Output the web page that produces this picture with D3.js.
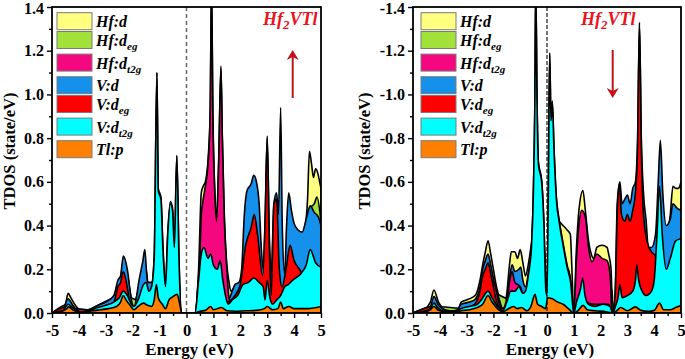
<!DOCTYPE html>
<html>
<head>
<meta charset="utf-8">
<script src="https://cdn.jsdelivr.net/npm/d3@7"></script>
<style>
  body { margin: 0; background: #fff; }
  svg { display: block; }
  svg text { font-family: "Liberation Serif", "Tinos", "Times New Roman", "DejaVu Serif", serif; }
</style>
</head>
<body>
<div id="chart"></div>
<script>
// ---- data: [energy (eV), DOS (state/eV)] ----
const energyTicks = [-5, -4, -3, -2, -1, 0, 1, 2, 3, 4, 5];
const energyMinor = [-4.5, -3.5, -2.5, -1.5, -0.5, 0.5, 1.5, 2.5, 3.5, 4.5];
const dosTicks = [0, 0.2, 0.4, 0.6, 0.8, 1.0, 1.2, 1.4];
const dosMinor = [0.1, 0.3, 0.5, 0.7, 0.9, 1.1, 1.3];

const seriesLabels = [
  { main: 'Hf:d', sub: '' }, { main: 'Hf:d', sub: 'eg' }, { main: 'Hf:d', sub: 't2g' },
  { main: 'V:d', sub: '' }, { main: 'V:d', sub: 'eg' }, { main: 'V:d', sub: 't2g' },
  { main: 'Tl:p', sub: '' }
];
const seriesColors = ['#ffff80', '#a2e03a', '#f5087f', '#1591ec', '#ff0000', '#00ffff', '#ff8000'];

// spin up
const upHfD = [[-5,0],[-4.7,0.01],[-4.5,0.04],[-4.4,0.09],[-4.3,0.07],[-4.1,0.03],[-3.9,0.01],[-3.7,0.01],[-3.5,0.02],[-3.2,0.03],[-3,0.04],[-2.7,0.06],[-2.55,0.14],[-2.45,0.16],[-2.35,0.24],[-2.2,0.18],[-2.05,0.07],[-1.95,0.05],[-1.8,0.1],[-1.6,0.2],[-1.5,0.2],[-1.4,0.1],[-1.2,0.15],[-1.1,0.4],[-1,0.2],[-0.8,0.1],[-0.6,0.2],[-0.36,0.3],[-0.2,0],[0.3,0],[0.45,0.2],[0.55,0.55],[0.62,0.58],[0.7,0.6],[0.8,0.7],[0.88,0.92],[0.93,1.52],[0.98,0.92],[1.05,0.57],[1.12,0.44],[1.2,0.72],[1.28,1.13],[1.33,0.82],[1.4,0.47],[1.5,0.22],[1.57,0.15],[1.65,0.1],[1.8,0.12],[1.95,0.13],[2.1,0.12],[2.4,0.15],[2.7,0.15],[3,0.2],[3.3,0.2],[3.6,0.2],[3.9,0.25],[4.2,0.3],[4.4,0.38],[4.5,0.52],[4.57,0.74],[4.65,0.68],[4.72,0.62],[4.8,0.66],[4.88,0.64],[4.95,0.6],[5,0.57]];
const upHfEg = [[-5,0],[-4.4,0.04],[-4,0.005],[-2.35,0.08],[-1.6,0.05],[-1.1,0.1],[-0.36,0.1],[-0.2,0],[0.3,0],[0.6,0.05],[0.93,0.1],[1.28,0.05],[1.5,0.03],[2,0.05],[2.5,0.08],[3,0.1],[3.5,0.12],[4,0.15],[4.4,0.3],[4.6,0.48],[4.75,0.5],[4.85,0.53],[5,0.42]];
const upHfT2g = [[-5,0],[-4.4,0.02],[-3,0.01],[-2.4,0.03],[-2,0.01],[-1.1,0.05],[-0.4,0.03],[-0.2,0],[0.3,0],[0.45,0.1],[0.55,0.45],[0.62,0.52],[0.7,0.58],[0.8,0.68],[0.88,0.9],[0.93,1.5],[0.98,0.9],[1.05,0.55],[1.12,0.42],[1.2,0.7],[1.28,1.12],[1.33,0.8],[1.4,0.45],[1.5,0.2],[1.57,0.08],[1.7,0.03],[2,0.02],[3,0.03],[4,0.05],[5,0.08]];
const upVD = [[-5,0.002],[-4.6,0.015],[-4.4,0.065],[-4.25,0.04],[-4.05,0.01],[-3.85,0.004],[-3.6,0.015],[-3.3,0.035],[-3,0.05],[-2.7,0.08],[-2.55,0.15],[-2.45,0.17],[-2.35,0.26],[-2.2,0.2],[-2.05,0.06],[-1.95,0.03],[-1.75,0.16],[-1.62,0.24],[-1.55,0.29],[-1.45,0.14],[-1.3,0.14],[-1.2,0.26],[-1.1,1.1],[-1.05,0.57],[-0.95,0.53],[-0.88,0.32],[-0.78,0.13],[-0.7,0.36],[-0.6,0.51],[-0.52,0.48],[-0.45,0.31],[-0.36,0.72],[-0.28,0.26],[-0.2,0],[0.32,0],[0.45,0.17],[0.55,0.3],[0.7,0.32],[0.85,0.3],[1,0.25],[1.2,0.22],[1.4,0.12],[1.55,0.06],[1.7,0.1],[1.8,0.13],[1.95,0.14],[2.05,0.2],[2.15,0.45],[2.25,0.56],[2.4,0.59],[2.5,0.63],[2.6,0.6],[2.7,0.5],[2.78,0.3],[2.85,0.2],[2.92,0.42],[3,0.81],[3.08,0.35],[3.15,0.18],[3.25,0.5],[3.35,0.55],[3.42,0.45],[3.5,0.94],[3.56,0.4],[3.65,0.18],[3.72,0.4],[3.8,0.55],[3.9,0.47],[4,0.41],[4.15,0.38],[4.3,0.37],[4.45,0.43],[4.6,0.49],[4.75,0.46],[4.9,0.44],[5,0.4]];
const upVEg = [[-5,0.002],[-4.4,0.03],[-4,0.005],[-3.5,0.015],[-3,0.03],[-2.7,0.05],[-2.55,0.12],[-2.45,0.14],[-2.35,0.19],[-2.25,0.15],[-2.12,0.06],[-2,0.02],[-1.8,0.04],[-1.6,0.08],[-1.4,0.05],[-1.2,0.08],[-1.1,0.3],[-1,0.1],[-0.8,0.05],[-0.6,0.1],[-0.36,0.2],[-0.25,0.05],[-0.2,0],[0.32,0],[0.6,0.06],[1,0.08],[1.5,0.05],[1.8,0.08],[2,0.13],[2.2,0.31],[2.4,0.39],[2.52,0.45],[2.65,0.35],[2.83,0.17],[2.92,0.4],[3,0.8],[3.08,0.3],[3.15,0.08],[3.25,0.5],[3.35,0.52],[3.45,0.2],[3.55,0.12],[3.7,0.2],[3.85,0.31],[4,0.24],[4.2,0.2],[4.4,0.17],[4.7,0.17],[5,0.15]];
const upVT2g = [[-5,0.002],[-4.6,0.01],[-4.4,0.04],[-4.2,0.02],[-4,0.008],[-3.8,0.004],[-3.6,0.01],[-3.3,0.025],[-3,0.035],[-2.7,0.05],[-2.5,0.07],[-2.35,0.1],[-2.2,0.08],[-2.05,0.04],[-1.95,0.03],[-1.8,0.06],[-1.6,0.13],[-1.5,0.14],[-1.4,0.1],[-1.3,0.12],[-1.2,0.25],[-1.1,1.1],[-1.05,0.56],[-0.95,0.52],[-0.88,0.3],[-0.78,0.12],[-0.7,0.35],[-0.6,0.5],[-0.52,0.47],[-0.45,0.3],[-0.36,0.72],[-0.28,0.25],[-0.2,0],[0.32,0],[0.45,0.15],[0.55,0.27],[0.65,0.3],[0.8,0.25],[0.9,0.27],[1,0.22],[1.15,0.2],[1.25,0.24],[1.35,0.15],[1.45,0.08],[1.55,0.04],[1.7,0.06],[1.9,0.08],[2.1,0.13],[2.3,0.14],[2.5,0.16],[2.7,0.14],[2.85,0.12],[2.92,0.06],[3,0.15],[3.1,0.07],[3.2,0.04],[3.35,0.06],[3.5,0.08],[3.65,0.12],[3.78,0.13],[3.95,0.15],[4.25,0.18],[4.45,0.22],[4.6,0.29],[4.8,0.23],[5,0.21]];
const upTlP = [[-5,0],[-4.7,0.005],[-4.45,0.02],[-4.38,0.028],[-4.2,0.012],[-4,0.005],[-3.8,0.004],[-3.5,0.01],[-3.2,0.015],[-2.9,0.02],[-2.6,0.03],[-2.45,0.05],[-2.35,0.08],[-2.25,0.06],[-2.1,0.035],[-1.95,0.015],[-1.8,0.03],[-1.6,0.045],[-1.45,0.035],[-1.3,0.03],[-1.2,0.06],[-1.12,0.13],[-1.05,0.07],[-0.9,0.04],[-0.78,0.02],[-0.65,0.06],[-0.5,0.075],[-0.35,0.085],[-0.25,0.04],[-0.18,0],[0.3,0],[0.5,0.008],[0.7,0.012],[0.9,0.03],[1,0.015],[1.3,0.025],[1.5,0.01],[1.8,0.008],[2.2,0.01],[2.6,0.012],[2.9,0.02],[3,0.03],[3.2,0.015],[3.4,0.02],[3.5,0.05],[3.6,0.02],[3.8,0.03],[4,0.02],[4.5,0.02],[5,0.03]];

// spin down (negative)
const dnHfD = [[-5,0],[-4.6,-0.015],[-4.35,-0.05],[-4.22,-0.105],[-4.05,-0.05],[-3.8,-0.02],[-3.5,-0.015],[-3.35,-0.01],[-3.2,-0.05],[-3,-0.06],[-2.8,-0.07],[-2.65,-0.085],[-2.5,-0.15],[-2.4,-0.22],[-2.3,-0.28],[-2.2,-0.33],[-2.1,-0.27],[-2,-0.2],[-1.9,-0.13],[-1.8,-0.08],[-1.65,-0.02],[-1.5,-0.09],[-1.4,-0.22],[-1.33,-0.28],[-1.2,-0.28],[-1.1,-0.25],[-1,-0.29],[-0.9,-0.23],[-0.8,-0.17],[-0.7,-0.22],[-0.6,-0.3],[-0.45,-0.4],[-0.3,-0.45],[-0.1,-0.3],[0,-0.1],[0.1,-0.4],[0.2,-0.42],[0.43,-0.42],[0.6,-0.4],[0.75,-0.38],[0.87,-0.36],[0.93,-0.2],[1,0],[1.1,-0.3],[1.2,-0.48],[1.34,-0.56],[1.43,-0.47],[1.55,-0.33],[1.65,-0.27],[1.74,-0.25],[1.86,-0.3],[2.05,-0.31],[2.24,-0.3],[2.3,-0.27],[2.39,-0.2],[2.45,0],[2.55,-0.06],[3,-0.1],[3.5,-0.15],[4,-0.2],[4.4,-0.3],[4.6,-0.45],[4.7,-0.58],[4.8,-0.57],[4.9,-0.57],[5,-0.6]];
const dnHfEg = [[-5,0],[-4.22,-0.03],[-3,-0.02],[-2.2,-0.1],[-1.3,-0.06],[-0.45,-0.1],[0.1,-0.1],[0.5,-0.15],[1,0],[1.3,-0.08],[2,-0.05],[2.45,0],[3,-0.05],[4,-0.1],[4.6,-0.3],[4.8,-0.4],[5,-0.42]];
const dnHfT2g = [[-5,0],[-4.22,-0.02],[-4,-0.01],[-3.5,-0.01],[-3.2,-0.02],[-2.9,-0.025],[-2.6,-0.03],[-2.4,-0.1],[-2.2,-0.14],[-2.05,-0.15],[-1.95,-0.13],[-1.8,-0.05],[-1.65,-0.01],[-1.5,-0.05],[-1.4,-0.14],[-1.3,-0.19],[-1.2,-0.14],[-1,-0.12],[-0.8,-0.06],[-0.6,-0.1],[-0.45,-0.2],[-0.3,-0.15],[0,-0.05],[0.2,-0.15],[0.5,-0.15],[0.7,-0.18],[0.8,-0.2],[0.9,-0.12],[1,0],[1.1,-0.25],[1.18,-0.39],[1.3,-0.47],[1.43,-0.44],[1.55,-0.3],[1.68,-0.235],[1.86,-0.27],[2.05,-0.25],[2.24,-0.24],[2.36,-0.17],[2.42,0],[2.55,-0.04],[3,-0.05],[3.5,-0.06],[4,-0.05],[4.5,-0.05],[5,-0.06]];
const dnVD = [[-5,0],[-4.6,-0.01],[-4.35,-0.03],[-4.22,-0.075],[-4.05,-0.035],[-3.8,-0.015],[-3.4,-0.008],[-3.2,-0.04],[-2.9,-0.05],[-2.7,-0.06],[-2.5,-0.12],[-2.4,-0.2],[-2.3,-0.24],[-2.2,-0.27],[-2.1,-0.22],[-1.95,-0.13],[-1.8,-0.07],[-1.65,-0.02],[-1.5,-0.07],[-1.4,-0.16],[-1.3,-0.22],[-1.2,-0.19],[-1.05,-0.2],[-0.98,-0.21],[-0.9,-0.15],[-0.8,-0.12],[-0.7,-0.18],[-0.58,-0.31],[-0.5,-0.6],[-0.45,-1],[-0.42,-1.5],[-0.37,-0.96],[-0.32,-0.69],[-0.2,-0.61],[-0.12,-0.43],[-0.04,-0.11],[0,-0.09],[0.05,-0.56],[0.1,-1.19],[0.15,-0.89],[0.2,-0.97],[0.26,-0.76],[0.35,-0.53],[0.45,-0.43],[0.6,-0.32],[0.75,-0.22],[0.88,-0.15],[1,0],[1.1,-0.06],[1.25,-0.12],[1.33,-0.17],[1.42,-0.09],[1.55,-0.05],[1.8,-0.04],[2.1,-0.05],[2.35,-0.04],[2.42,-0.11],[2.48,0],[2.55,-0.12],[2.62,-0.5],[2.72,-0.6],[2.8,-0.5],[2.9,-0.52],[3,-0.54],[3.1,-0.5],[3.2,-0.57],[3.3,-0.6],[3.38,-0.8],[3.45,-1.33],[3.52,-0.8],[3.6,-0.55],[3.7,-0.42],[3.78,-0.3],[3.9,-0.3],[4.05,-0.36],[4.15,-0.6],[4.23,-0.79],[4.32,-0.55],[4.45,-0.4],[4.6,-0.43],[4.7,-0.5],[4.85,-0.48],[5,-0.47]];
const dnVEg = [[-5,0],[-4.22,-0.03],[-4,-0.01],[-3.4,-0.005],[-3,-0.02],[-2.7,-0.04],[-2.5,-0.1],[-2.4,-0.17],[-2.3,-0.2],[-2.2,-0.23],[-2.1,-0.18],[-2,-0.12],[-1.9,-0.06],[-1.7,-0.02],[-1.5,-0.03],[-1.3,-0.06],[-1,-0.07],[-0.7,-0.08],[-0.45,-0.2],[-0.3,-0.1],[0,-0.03],[0.1,-0.2],[0.4,-0.1],[0.8,-0.05],[1,0],[1.3,-0.05],[1.8,-0.04],[2.3,-0.04],[2.45,0],[2.55,-0.1],[2.62,-0.45],[2.7,-0.59],[2.78,-0.45],[2.9,-0.42],[3,-0.45],[3.1,-0.42],[3.2,-0.47],[3.3,-0.55],[3.38,-0.75],[3.45,-1.32],[3.52,-0.75],[3.6,-0.45],[3.75,-0.32],[3.9,-0.28],[4.05,-0.26],[4.12,-0.12],[4.3,-0.1],[4.6,-0.08],[5,-0.1]];
const dnVT2g = [[-5,0],[-4.6,-0.008],[-4.35,-0.02],[-4.22,-0.045],[-4.05,-0.02],[-3.8,-0.008],[-3.4,-0.006],[-3.2,-0.02],[-2.9,-0.03],[-2.6,-0.04],[-2.45,-0.06],[-2.2,-0.1],[-2.05,-0.07],[-1.85,-0.03],[-1.65,-0.01],[-1.5,-0.05],[-1.35,-0.1],[-1.2,-0.1],[-1.05,-0.12],[-0.9,-0.09],[-0.8,-0.1],[-0.7,-0.17],[-0.58,-0.3],[-0.5,-0.6],[-0.45,-1],[-0.42,-1.5],[-0.37,-0.95],[-0.32,-0.68],[-0.2,-0.6],[-0.12,-0.42],[-0.04,-0.1],[0,-0.08],[0.05,-0.55],[0.1,-1.18],[0.15,-0.88],[0.2,-0.96],[0.26,-0.75],[0.35,-0.52],[0.45,-0.42],[0.6,-0.31],[0.75,-0.21],[0.88,-0.14],[1,0],[1.1,-0.05],[1.25,-0.11],[1.33,-0.16],[1.42,-0.08],[1.55,-0.04],[1.8,-0.03],[2.1,-0.04],[2.35,-0.03],[2.45,0],[2.55,-0.03],[2.65,-0.07],[2.72,-0.13],[2.8,-0.07],[3,-0.08],[3.2,-0.1],[3.3,-0.15],[3.35,-0.22],[3.42,-0.15],[3.55,-0.1],[3.7,-0.08],[3.9,-0.1],[4,-0.15],[4.1,-0.35],[4.2,-0.58],[4.3,-0.36],[4.45,-0.2],[4.6,-0.25],[4.8,-0.33],[5,-0.34]];
const dnTlP = [[-5,0],[-4.6,-0.005],[-4.35,-0.015],[-4.22,-0.03],[-4.05,-0.012],[-3.8,-0.005],[-3.4,-0.004],[-3.2,-0.01],[-2.9,-0.015],[-2.6,-0.025],[-2.4,-0.04],[-2.2,-0.08],[-2.05,-0.05],[-1.85,-0.02],[-1.65,-0.005],[-1.5,-0.015],[-1.25,-0.03],[-1.1,-0.02],[-0.95,-0.025],[-0.75,-0.01],[-0.6,-0.03],[-0.45,-0.085],[-0.35,-0.04],[-0.2,-0.03],[-0.05,-0.02],[0.02,-0.07],[0.2,-0.065],[0.4,-0.05],[0.6,-0.04],[0.8,-0.02],[1,0],[1.15,-0.01],[1.35,-0.035],[1.5,-0.015],[1.8,-0.01],[2.2,-0.006],[2.45,0],[2.6,-0.01],[2.75,-0.025],[3,-0.01],[3.3,-0.028],[3.5,-0.012],[3.8,-0.008],[4,-0.012],[4.2,-0.045],[4.35,-0.015],[4.6,-0.015],[4.8,-0.025],[5,-0.035]];

// ---- layout ----
const W = 685, H = 359;
const plotTop = 7, plotBottom = 313;
const drawOrder = [0, 1, 3, 2, 4, 5, 6];   // biggest first, Tl:p last
const serif = '"Liberation Serif", "Tinos", "Times New Roman", "DejaVu Serif", serif';

const panels = [
  { id: 'up', x0: 52, x1: 321, sign: 1, series: [upHfD, upHfEg, upHfT2g, upVD, upVEg, upVT2g, upTlP],
    zeroColor: '#666', zeroDash: '4,3', zeroWidth: 1.5, legendX: 57, titleX: 263, arrowX: 292.7, ylabX: 15 },
  { id: 'dn', x0: 413, x1: 681, sign: -1, series: [dnHfD, dnHfEg, dnHfT2g, dnVD, dnVEg, dnVT2g, dnTlP],
    zeroColor: '#000', zeroDash: '4,2', zeroWidth: 1.1, legendX: 421, titleX: 581, arrowX: 612.7, ylabX: 370 }
];

const svg = d3.select('#chart').append('svg')
  .attr('width', W).attr('height', H)
  .attr('font-family', serif);

panels.forEach(p => drawPanel(svg.append('g'), p));

function drawPanel(g, p) {
  const x = d3.scaleLinear().domain([-5, 5]).range([p.x0, p.x1]);
  const y = d3.scaleLinear().domain([0, p.sign * 1.4]).range([plotBottom, plotTop]);

  g.append('clipPath').attr('id', 'clip-' + p.id)
    .append('rect').attr('x', p.x0).attr('y', plotTop)
    .attr('width', p.x1 - p.x0).attr('height', plotBottom - plotTop);

  const area = d3.area()
    .x(d => x(d[0]))
    .y0(y(0))
    .y1(d => y(d[1]))
    .curve(d3.curveMonotoneX);

  const plot = g.append('g').attr('clip-path', `url(#clip-${p.id})`);
  drawOrder.forEach(i => {
    plot.append('path')
      .datum(p.series[i])
      .attr('d', area)
      .attr('fill', seriesColors[i])
      .attr('stroke', '#000')
      .attr('stroke-width', 1.6)
      .attr('stroke-linejoin', 'round');
  });

  // Fermi level
  g.append('line')
    .attr('x1', x(0)).attr('x2', x(0)).attr('y1', plotTop).attr('y2', plotBottom)
    .attr('stroke', p.zeroColor).attr('stroke-width', p.zeroWidth)
    .attr('stroke-dasharray', p.zeroDash);

  // axes
  const xAxis = g.append('g').attr('transform', `translate(0,${plotBottom})`)
    .call(d3.axisBottom(x).tickValues(energyTicks).tickSize(5).tickPadding(6).tickFormat(d => String(d)));
  const xMinor = g.append('g').attr('transform', `translate(0,${plotBottom})`)
    .call(d3.axisBottom(x).tickValues(energyMinor).tickSize(3).tickFormat(''));
  const yAxis = g.append('g').attr('transform', `translate(${p.x0},0)`)
    .call(d3.axisLeft(y).tickValues(dosTicks.map(v => p.sign * v)).tickSize(5).tickPadding(3)
      .tickFormat(d => d.toFixed(1)));
  const yMinor = g.append('g').attr('transform', `translate(${p.x0},0)`)
    .call(d3.axisLeft(y).tickValues(dosMinor.map(v => p.sign * v)).tickSize(3).tickFormat(''));

  [xAxis, xMinor, yAxis, yMinor].forEach(a => {
    a.attr('font-family', serif);
    a.select('.domain').remove();
    a.selectAll('line').attr('stroke', '#000').attr('stroke-width', 1.4);
    a.selectAll('text').attr('fill', '#000').attr('font-weight', 'bold');
  });
  xAxis.attr('font-size', 16.5);
  yAxis.attr('font-size', 16);
  // top label sits on the frame edge, keep it inside the page
  yAxis.selectAll('text').filter(d => Math.abs(d) === 1.4).attr('dy', '0.42em');

  // frame
  g.append('rect')
    .attr('x', p.x0).attr('y', plotTop).attr('width', p.x1 - p.x0).attr('height', plotBottom - plotTop)
    .attr('fill', 'none').attr('stroke', '#000').attr('stroke-width', 1.8);

  // axis titles
  g.append('text')
    .attr('x', (p.x0 + p.x1) / 2 + 3).attr('y', 355)
    .attr('text-anchor', 'middle')
    .attr('font-size', 17).attr('font-weight', 'bold')
    .text('Energy (eV)');
  g.append('text')
    .attr('transform', `translate(${p.ylabX},151) rotate(-90)`)
    .attr('text-anchor', 'middle')
    .attr('font-size', 16.5).attr('font-weight', 'bold')
    .text('TDOS (state/eV)');

  // legend
  let ly = 12.7;
  seriesLabels.forEach((s, i) => {
    g.append('rect')
      .attr('x', p.legendX).attr('y', ly).attr('width', 35).attr('height', 17)
      .attr('fill', seriesColors[i]).attr('stroke', '#7a7a7a').attr('stroke-width', 1);
    const t = g.append('text')
      .attr('x', p.legendX + 39).attr('y', ly + 14.5)
      .attr('font-size', 16).attr('font-weight', 'bold').attr('font-style', 'italic');
    t.append('tspan').text(s.main);
    if (s.sub) t.append('tspan').attr('dy', 4).attr('font-size', 11).text(s.sub);
    ly += s.sub ? 22.6 : 18.8;
  });

  // title
  const title = g.append('text')
    .attr('x', p.titleX).attr('y', 25)
    .attr('fill', '#e8141c')
    .attr('font-size', 18).attr('font-weight', 'bold').attr('font-style', 'italic');
  title.append('tspan').text('Hf');
  title.append('tspan').attr('dy', 4).attr('font-size', 13).text('2');
  title.append('tspan').attr('dy', -4).text('VTl');

  // spin arrow
  const ax = p.arrowX;
  const tipY = p.sign > 0 ? 50 : 98;
  const tailY = p.sign > 0 ? 98 : 50;
  const dir = p.sign > 0 ? 1 : -1;
  g.append('line')
    .attr('x1', ax).attr('x2', ax).attr('y1', tailY).attr('y2', tipY + dir * 6)
    .attr('stroke', '#c01218').attr('stroke-width', 2);
  g.append('path')
    .attr('d', `M${ax},${tipY} L${ax - 6},${tipY + dir * 10} L${ax},${tipY + dir * 7} L${ax + 6},${tipY + dir * 10} Z`)
    .attr('fill', '#c01218');
}
</script>
</body>
</html>
